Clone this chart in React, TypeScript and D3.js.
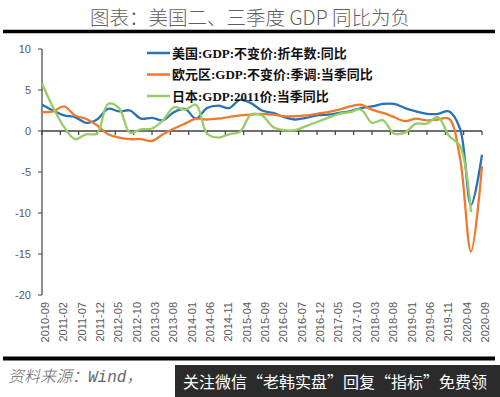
import * as d3 from "d3";

// quarter-end months, 2010Q3 .. 2020Q3
const quarters = [
  "2010-09", "2010-12",
  "2011-03", "2011-06", "2011-09", "2011-12",
  "2012-03", "2012-06", "2012-09", "2012-12",
  "2013-03", "2013-06", "2013-09", "2013-12",
  "2014-03", "2014-06", "2014-09", "2014-12",
  "2015-03", "2015-06", "2015-09", "2015-12",
  "2016-03", "2016-06", "2016-09", "2016-12",
  "2017-03", "2017-06", "2017-09", "2017-12",
  "2018-03", "2018-06", "2018-09", "2018-12",
  "2019-03", "2019-06", "2019-09", "2019-12",
  "2020-03", "2020-06", "2020-09",
];

const usGdp = [
  3.2, 2.5, 1.9, 1.7, 1.0, 1.4,
  2.7, 2.4, 2.5, 1.5,
  1.6, 1.3, 2.3, 2.7,
  1.5, 2.8, 3.1, 2.8,
  3.8, 3.4, 2.5, 2.2,
  1.7, 1.4, 1.6, 1.9,
  2.0, 2.2, 2.4, 2.8,
  3.0, 3.3, 3.3, 2.8,
  2.4, 2.1, 2.1, 2.4,
  0.3, -9.0, -2.9,
];

const euGdp = [
  2.3, 2.4, 3.0, 1.9, 1.5, 0.7,
  -0.4, -0.8, -1.0, -1.0,
  -1.2, -0.4, 0.3, 0.9,
  1.5, 1.4, 1.5, 1.7,
  1.9, 2.0, 2.1, 2.0,
  1.8, 1.8, 1.9, 2.1,
  2.3, 2.6, 3.0, 3.2,
  2.6, 2.2, 1.7, 1.2,
  1.5, 1.3, 1.4, 1.5,
  -3.3, -14.7, -4.3,
];

// Japan Q3 2020 not yet released
const jpGdp = [
  5.8, 2.9, 0.5, -1.0, -0.4, -0.3,
  3.3, 2.8, -0.2, 0.2,
  0.3, 1.3, 2.9, 2.6,
  3.2, -0.3, -0.8, -0.4,
  -0.1, 2.0, 1.9, 0.5,
  0.1, 0.1, 0.6, 1.1,
  1.6, 2.1, 2.3, 2.6,
  1.0, 1.3, -0.3, -0.2,
  0.9, 0.9, 1.7, -0.6,
  -1.8, -9.9, null,
];

const xTickLabels = [
  "2010-09", "2011-02", "2011-07", "2011-12", "2012-05", "2012-10",
  "2013-03", "2013-08", "2014-01", "2014-06", "2014-11", "2015-04",
  "2015-09", "2016-02", "2016-07", "2016-12", "2017-05", "2017-10",
  "2018-03", "2018-08", "2019-01", "2019-06", "2019-11", "2020-04",
  "2020-09",
];

const yTicks = [10, 5, 0, -5, -10, -15, -20];

const series = [
  { name: "美国:GDP:不变价:折年数:同比", color: "#2A72B5", values: usGdp },
  { name: "欧元区:GDP:不变价:季调:当季同比", color: "#EC7B30", values: euGdp },
  { name: "日本:GDP:2011价:当季同比", color: "#97CC66", values: jpGdp },
];

const W = 500;
const H = 397;

// months since 2010-09
const monthIndex = (s: string) => {
  const [yr, mo] = s.split("-").map(Number);
  return (yr - 2010) * 12 + mo - 9;
};

export default function App() {
  const x = d3.scaleLinear().domain([0, 120]).range([42, 482]);
  const y = d3.scaleLinear().domain([-20, 10]).range([295, 49]);

  const line = d3
    .line<number | null>()
    .defined((d) => d !== null)
    .x((_, i) => x(monthIndex(quarters[i])))
    .y((d) => y(d as number))
    .curve(d3.curveCatmullRom.alpha(0.5));

  const axisColor = "#404040";
  const labelColor = "#595959";

  return (
    <div style={{ position: "absolute", left: 0, top: 0, width: W, height: H, background: "#fff" }}>
      <svg width={W} height={H} style={{ display: "block" }}>
        {/* Title */}
        <text
          x={250}
          y={25}
          textAnchor="middle"
          fontSize={19.5}
          fill="#5f5f5f"
          style={{ fontFamily: "'Noto Sans CJK SC', sans-serif", fontWeight: 300 }}
        >
          图表：美国二、三季度 GDP 同比为负
        </text>
        <line x1={3} x2={495} y1={31.5} y2={31.5} stroke="#000" strokeWidth={3.5} />

        {/* Y axis */}
        <line x1={42} x2={42} y1={y(10)} y2={y(-20)} stroke={axisColor} strokeWidth={1.2} />
        {yTicks.map((t) => (
          <g key={t}>
            <line x1={38} x2={42} y1={y(t)} y2={y(t)} stroke={axisColor} strokeWidth={1} />
            <text
              x={31}
              y={y(t)}
              dy="0.35em"
              textAnchor="end"
              fontSize={11}
              fill={labelColor}
              style={{ fontFamily: "'Liberation Sans', sans-serif" }}
            >
              {t}
            </text>
          </g>
        ))}

        {/* X axis at zero */}
        <line x1={42} x2={482} y1={y(0)} y2={y(0)} stroke={axisColor} strokeWidth={1.5} />
        {xTickLabels.map((lbl) => {
          const tx = x(monthIndex(lbl));
          return (
            <g key={lbl}>
              <line x1={tx} x2={tx} y1={y(0)} y2={y(0) + 4} stroke={axisColor} strokeWidth={1.2} />
              <text
                transform={`translate(${tx + 3},302) rotate(-90)`}
                dy="0.35em"
                textAnchor="end"
                fontSize={11}
                fill={labelColor}
                style={{ fontFamily: "'Liberation Sans', sans-serif" }}
              >
                {lbl}
              </text>
            </g>
          );
        })}

        {/* Lines */}
        {series.map((s) => (
          <path
            key={s.name}
            d={line(s.values) ?? ""}
            fill="none"
            stroke={s.color}
            strokeWidth={2.3}
            strokeLinejoin="round"
          />
        ))}

        {/* Legend */}
        {series.map((s, i) => {
          const ly = 53 + i * 21.5;
          return (
            <g key={s.name}>
              <line x1={147} x2={170} y1={ly} y2={ly} stroke={s.color} strokeWidth={2.5} />
              <text
                x={172}
                y={ly}
                dy="0.35em"
                fontSize={13}
                fontWeight="bold"
                fill="#111"
                style={{ fontFamily: "'Liberation Serif', 'Noto Sans CJK SC', serif" }}
              >
                {s.name}
              </text>
            </g>
          );
        })}

        {/* Footer */}
        <line x1={3} x2={495} y1={358.5} y2={358.5} stroke="#000" strokeWidth={4} />
        <text
          x={8}
          y={382}
          fontSize={16}
          fontStyle="italic"
          fill="#666"
          style={{ fontFamily: "'Liberation Mono', 'Noto Sans CJK SC', monospace", fontWeight: 300 }}
        >
          资料来源：Wind，
        </text>
        <rect x={175} y={365} width={325} height={32} fill="#2b2b2b" />
        <text
          x={183}
          y={388}
          fontSize={16}
          fill="#fff"
          style={{ fontFamily: "'Noto Sans CJK SC', sans-serif" }}
        >
          关注微信“老韩实盘”回复“指标”免费领
        </text>
      </svg>
    </div>
  );
}
